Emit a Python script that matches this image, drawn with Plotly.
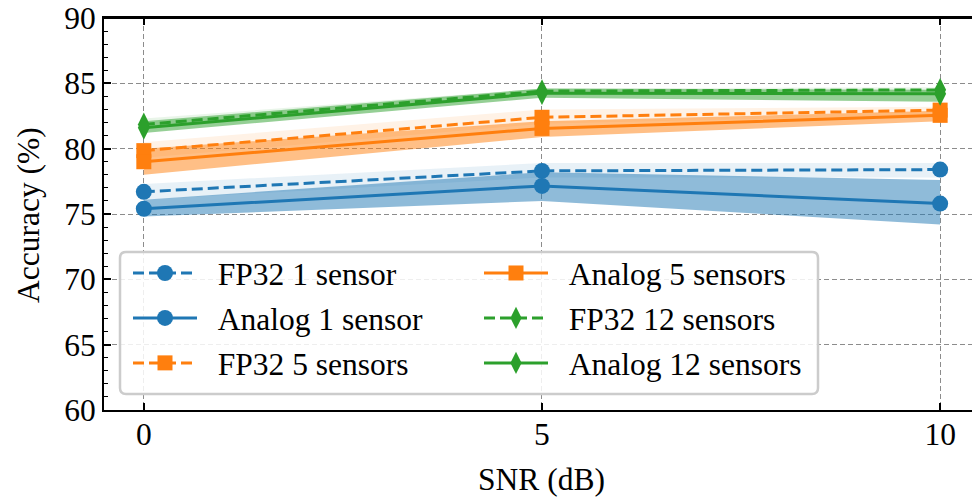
import plotly.graph_objects as go

snr = [0, 5, 10]

fp32_1 = [76.7, 78.3, 78.4]
fp32_1_lo = [76.1, 77.8, 77.8]
fp32_1_hi = [77.3, 78.9, 78.9]
ana_1 = [75.4, 77.15, 75.8]
ana_1_lo = [74.8, 76.0, 74.2]
ana_1_hi = [76.1, 78.2, 77.6]

fp32_5 = [79.85, 82.4, 82.95]
fp32_5_lo = [79.3, 81.9, 82.6]
fp32_5_hi = [80.5, 83.0, 83.2]
ana_5 = [79.0, 81.55, 82.55]
ana_5_lo = [78.0, 80.9, 82.1]
ana_5_hi = [80.0, 82.1, 82.9]

fp32_12 = [81.85, 84.4, 84.5]
fp32_12_lo = [81.6, 84.2, 84.3]
fp32_12_hi = [82.3, 84.6, 84.7]
ana_12 = [81.6, 84.25, 84.2]
ana_12_lo = [81.2, 83.9, 83.6]
ana_12_hi = [82.1, 84.6, 84.5]

BLUE, ORANGE, GREEN = "#1f77b4", "#ff7f0e", "#2ca02c"

def rgba(hexc, a):
    h = hexc.lstrip("#")
    r, g, b = int(h[0:2], 16), int(h[2:4], 16), int(h[4:6], 16)
    return f"rgba({r},{g},{b},{a})"

PAD = "\u00a0\u00a0"
series = [
    ("FP32 1 sensor", fp32_1, fp32_1_lo, fp32_1_hi, BLUE, "circle", True, "legend"),
    ("Analog 1 sensor", ana_1, ana_1_lo, ana_1_hi, BLUE, "circle", False, "legend"),
    ("FP32 5 sensors", fp32_5, fp32_5_lo, fp32_5_hi, ORANGE, "square", True, "legend"),
    ("Analog 5 sensors", ana_5, ana_5_lo, ana_5_hi, ORANGE, "square", False, "legend2"),
    ("FP32 12 sensors", fp32_12, fp32_12_lo, fp32_12_hi, GREEN, "diamond-tall", True, "legend2"),
    ("Analog 12 sensors", ana_12, ana_12_lo, ana_12_hi, GREEN, "diamond-tall", False, "legend2"),
]

fig = go.Figure()
for i, (name, y, lo, hi, col, sym, dashed, leg) in enumerate(series):
    alpha = 0.1 if dashed else 0.5
    fig.add_trace(go.Scatter(x=snr, y=hi, mode="lines", line=dict(width=0),
                             showlegend=False, hoverinfo="skip"))
    fig.add_trace(go.Scatter(x=snr, y=lo, mode="lines", line=dict(width=0),
                             fill="tonexty", fillcolor=rgba(col, alpha),
                             showlegend=False, hoverinfo="skip"))
for i, (name, y, lo, hi, col, sym, dashed, leg) in enumerate(series):
    msize = 17 if sym == "diamond-tall" else (15 if sym == "square" else 16)
    fig.add_trace(go.Scatter(
        x=snr, y=y, mode="lines+markers", name=PAD + name, legend=leg,
        legendgroup=name,
        line=dict(color=col, width=3, dash="11px,5px" if dashed else "solid"),
        marker=dict(symbol=sym, size=msize, color=col, line=dict(width=0)),
    ))

FONT = "Liberation Serif"
FS = 31.5
W, H = 972, 499
# plot box in screenshot pixels: left 104, top 18, bottom 410, right beyond edge
L, T, B = 104, 18, 499 - 410
plot_w = W - L
plot_h = H - T - B

def px(x):
    return (x - L) / plot_w
def py(y):
    return (H - B - y) / plot_h

# top spine
fig.add_shape(type="line", xref="paper", yref="paper", x0=0, x1=1, y0=1, y1=1,
              line=dict(color="black", width=2), layer="above")

# legend frame (screenshot pixels -> paper)
bx0, bx1, by0, by1 = 120, 818, 252, 394
r = 6
path = (f"M {px(bx0 + r)},{py(by0)} L {px(bx1 - r)},{py(by0)} "
        f"Q {px(bx1)},{py(by0)} {px(bx1)},{py(by0 + r)} "
        f"L {px(bx1)},{py(by1 - r)} Q {px(bx1)},{py(by1)} {px(bx1 - r)},{py(by1)} "
        f"L {px(bx0 + r)},{py(by1)} Q {px(bx0)},{py(by1)} {px(bx0)},{py(by1 - r)} "
        f"L {px(bx0)},{py(by0 + r)} Q {px(bx0)},{py(by0)} {px(bx0 + r)},{py(by0)} Z")
fig.add_shape(type="path", path=path, xref="paper", yref="paper", layer="above",
              fillcolor="rgba(255,255,255,0.85)", line=dict(color="#cccccc", width=2.5))

# axis titles
fig.add_annotation(text="Accuracy (%)", textangle=-90, xref="paper", yref="paper",
                   x=px(28), y=py(215), xanchor="center", yanchor="middle",
                   showarrow=False, font=dict(family=FONT, size=FS, color="black"))
fig.add_annotation(text="SNR (dB)", xref="paper", yref="paper",
                   x=px(541), y=py(498), xanchor="center", yanchor="bottom",
                   borderpad=0, showarrow=False,
                   font=dict(family=FONT, size=FS, color="black"))

legend_common = dict(
    bgcolor="rgba(0,0,0,0)", borderwidth=0,
    font=dict(family=FONT, size=FS, color="black"),
    itemwidth=64, tracegroupgap=1, orientation="v",
    xref="paper", yref="paper", xanchor="left", yanchor="top",
)

fig.update_layout(
    width=W, height=H,
    margin=dict(l=L, r=0, t=T, b=B),
    paper_bgcolor="white", plot_bgcolor="white",
    font=dict(family=FONT, size=FS, color="black"),
    showlegend=True,
    legend=dict(x=px(128), y=py(246), **legend_common),
    legend2=dict(x=px(479), y=py(246), **legend_common),
    xaxis=dict(
        range=[-0.5, 10.4], tickvals=snr, ticktext=[str(v) for v in snr],
        ticks="inside", ticklen=7, tickwidth=1.5, tickcolor="black",
        showline=True, linecolor="black", linewidth=2, mirror="ticks",
        showgrid=True, gridcolor="#8c8c8c", gridwidth=1.3, griddash="5px,3px",
        zeroline=False, automargin=False, ticklabeloverflow="allow",
        ticklabelstandoff=-5,
        tickfont=dict(size=FS),
    ),
    yaxis=dict(
        range=[60, 90], tickvals=[60, 65, 70, 75, 80, 85, 90],
        ticks="inside", ticklen=7, tickwidth=1.5, tickcolor="black",
        minor=dict(dtick=1, ticks="inside", ticklen=4, tickwidth=1.2, tickcolor="black",
                   showgrid=False),
        showline=True, linecolor="black", linewidth=2,
        showgrid=True, gridcolor="#8c8c8c", gridwidth=1.3, griddash="5px,3px",
        zeroline=False, automargin=False, ticklabeloverflow="allow",
        tickfont=dict(size=FS),
    ),
)

fig.write_html("out.html", config={"displayModeBar": False},
               post_script="document.body.style.margin='0';document.body.style.padding='0';")
